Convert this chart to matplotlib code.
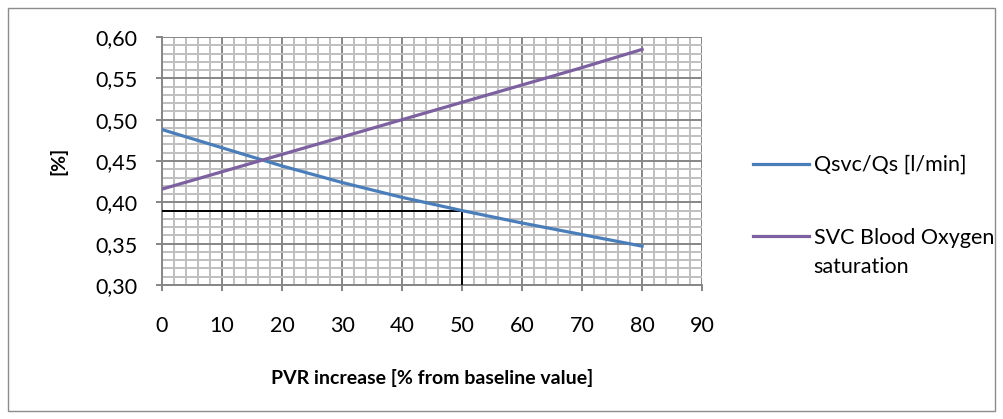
import matplotlib
matplotlib.use("Agg")
import matplotlib.pyplot as plt
from matplotlib.patches import Rectangle
from matplotlib.ticker import MultipleLocator, FuncFormatter

plt.rcParams["font.family"] = ["Lato", "DejaVu Sans"]

pvr_increase = [0, 10, 20, 30, 40, 50, 60, 70, 80]
qsvc_qs = [0.488, 0.466, 0.444, 0.424, 0.406, 0.390, 0.375, 0.361, 0.347]
svc_sat = [0.416, 0.437, 0.458, 0.479, 0.500, 0.521, 0.542, 0.563, 0.585]
ref_x = 50
ref_y = 0.39

fig = plt.figure(figsize=(10.04, 4.19), dpi=100)
fig.patches.append(Rectangle((0.008, 0.02), 0.983, 0.96, transform=fig.transFigure,
                             fill=False, edgecolor="#8c8c8c", linewidth=1))
ax = fig.add_axes([0.1614, 0.3198, 0.5379, 0.5919])

ax.set_xlim(0, 90)
ax.set_ylim(0.30, 0.60)
ax.xaxis.set_major_locator(MultipleLocator(10))
ax.xaxis.set_minor_locator(MultipleLocator(2))
ax.yaxis.set_major_locator(MultipleLocator(0.05))
ax.yaxis.set_minor_locator(MultipleLocator(0.01))
ax.yaxis.set_major_formatter(FuncFormatter(lambda v, p: f"{v:.2f}".replace(".", ",")))

ax.grid(which="minor", color="#bfbfbf", linewidth=1.4)
ax.grid(which="major", color="#868686", linewidth=1.4)
ax.set_axisbelow(True)
for s in ["top", "right"]:
    ax.spines[s].set_visible(False)
for s in ["left", "bottom"]:
    ax.spines[s].set_color("#868686")
    ax.spines[s].set_linewidth(1.4)

ax.tick_params(which="major", length=4.5, color="#868686", width=1.4, labelsize=15.5)
ax.tick_params(axis="y", which="major", pad=13)
ax.tick_params(axis="x", which="major", pad=18)
ax.tick_params(which="minor", length=0)

ax.plot([0, ref_x], [ref_y, ref_y], color="black", linewidth=1.4, zorder=3)
ax.plot([ref_x, ref_x], [0.30, ref_y], color="black", linewidth=1.4, zorder=3)

ax.plot(pvr_increase, qsvc_qs, color="#4a7ebb", linewidth=2.3, label="Qsvc/Qs [l/min]", zorder=4)
ax.plot(pvr_increase, svc_sat, color="#7d60a0", linewidth=2.3,
        label="SVC Blood Oxygen", zorder=4)

ax.set_xlabel("PVR increase [% from baseline value]", fontsize=14, fontweight="bold", labelpad=23.5)
ax.set_ylabel("[%]", fontsize=14, fontweight="bold", labelpad=20)

leg = ax.legend(loc="upper left", bbox_to_anchor=(0.731, 0.676), bbox_transform=fig.transFigure,
                frameon=False, fontsize=15.5, handlelength=2.6, handletextpad=0.2,
                labelspacing=2.45)
# second line of the wrapped legend label (handle stays on the first line, as in Excel)
fig.text(0.8098, 0.3628, "saturation", fontsize=15.5, va="center", ha="left")

fig.savefig("out.png", dpi=100)
